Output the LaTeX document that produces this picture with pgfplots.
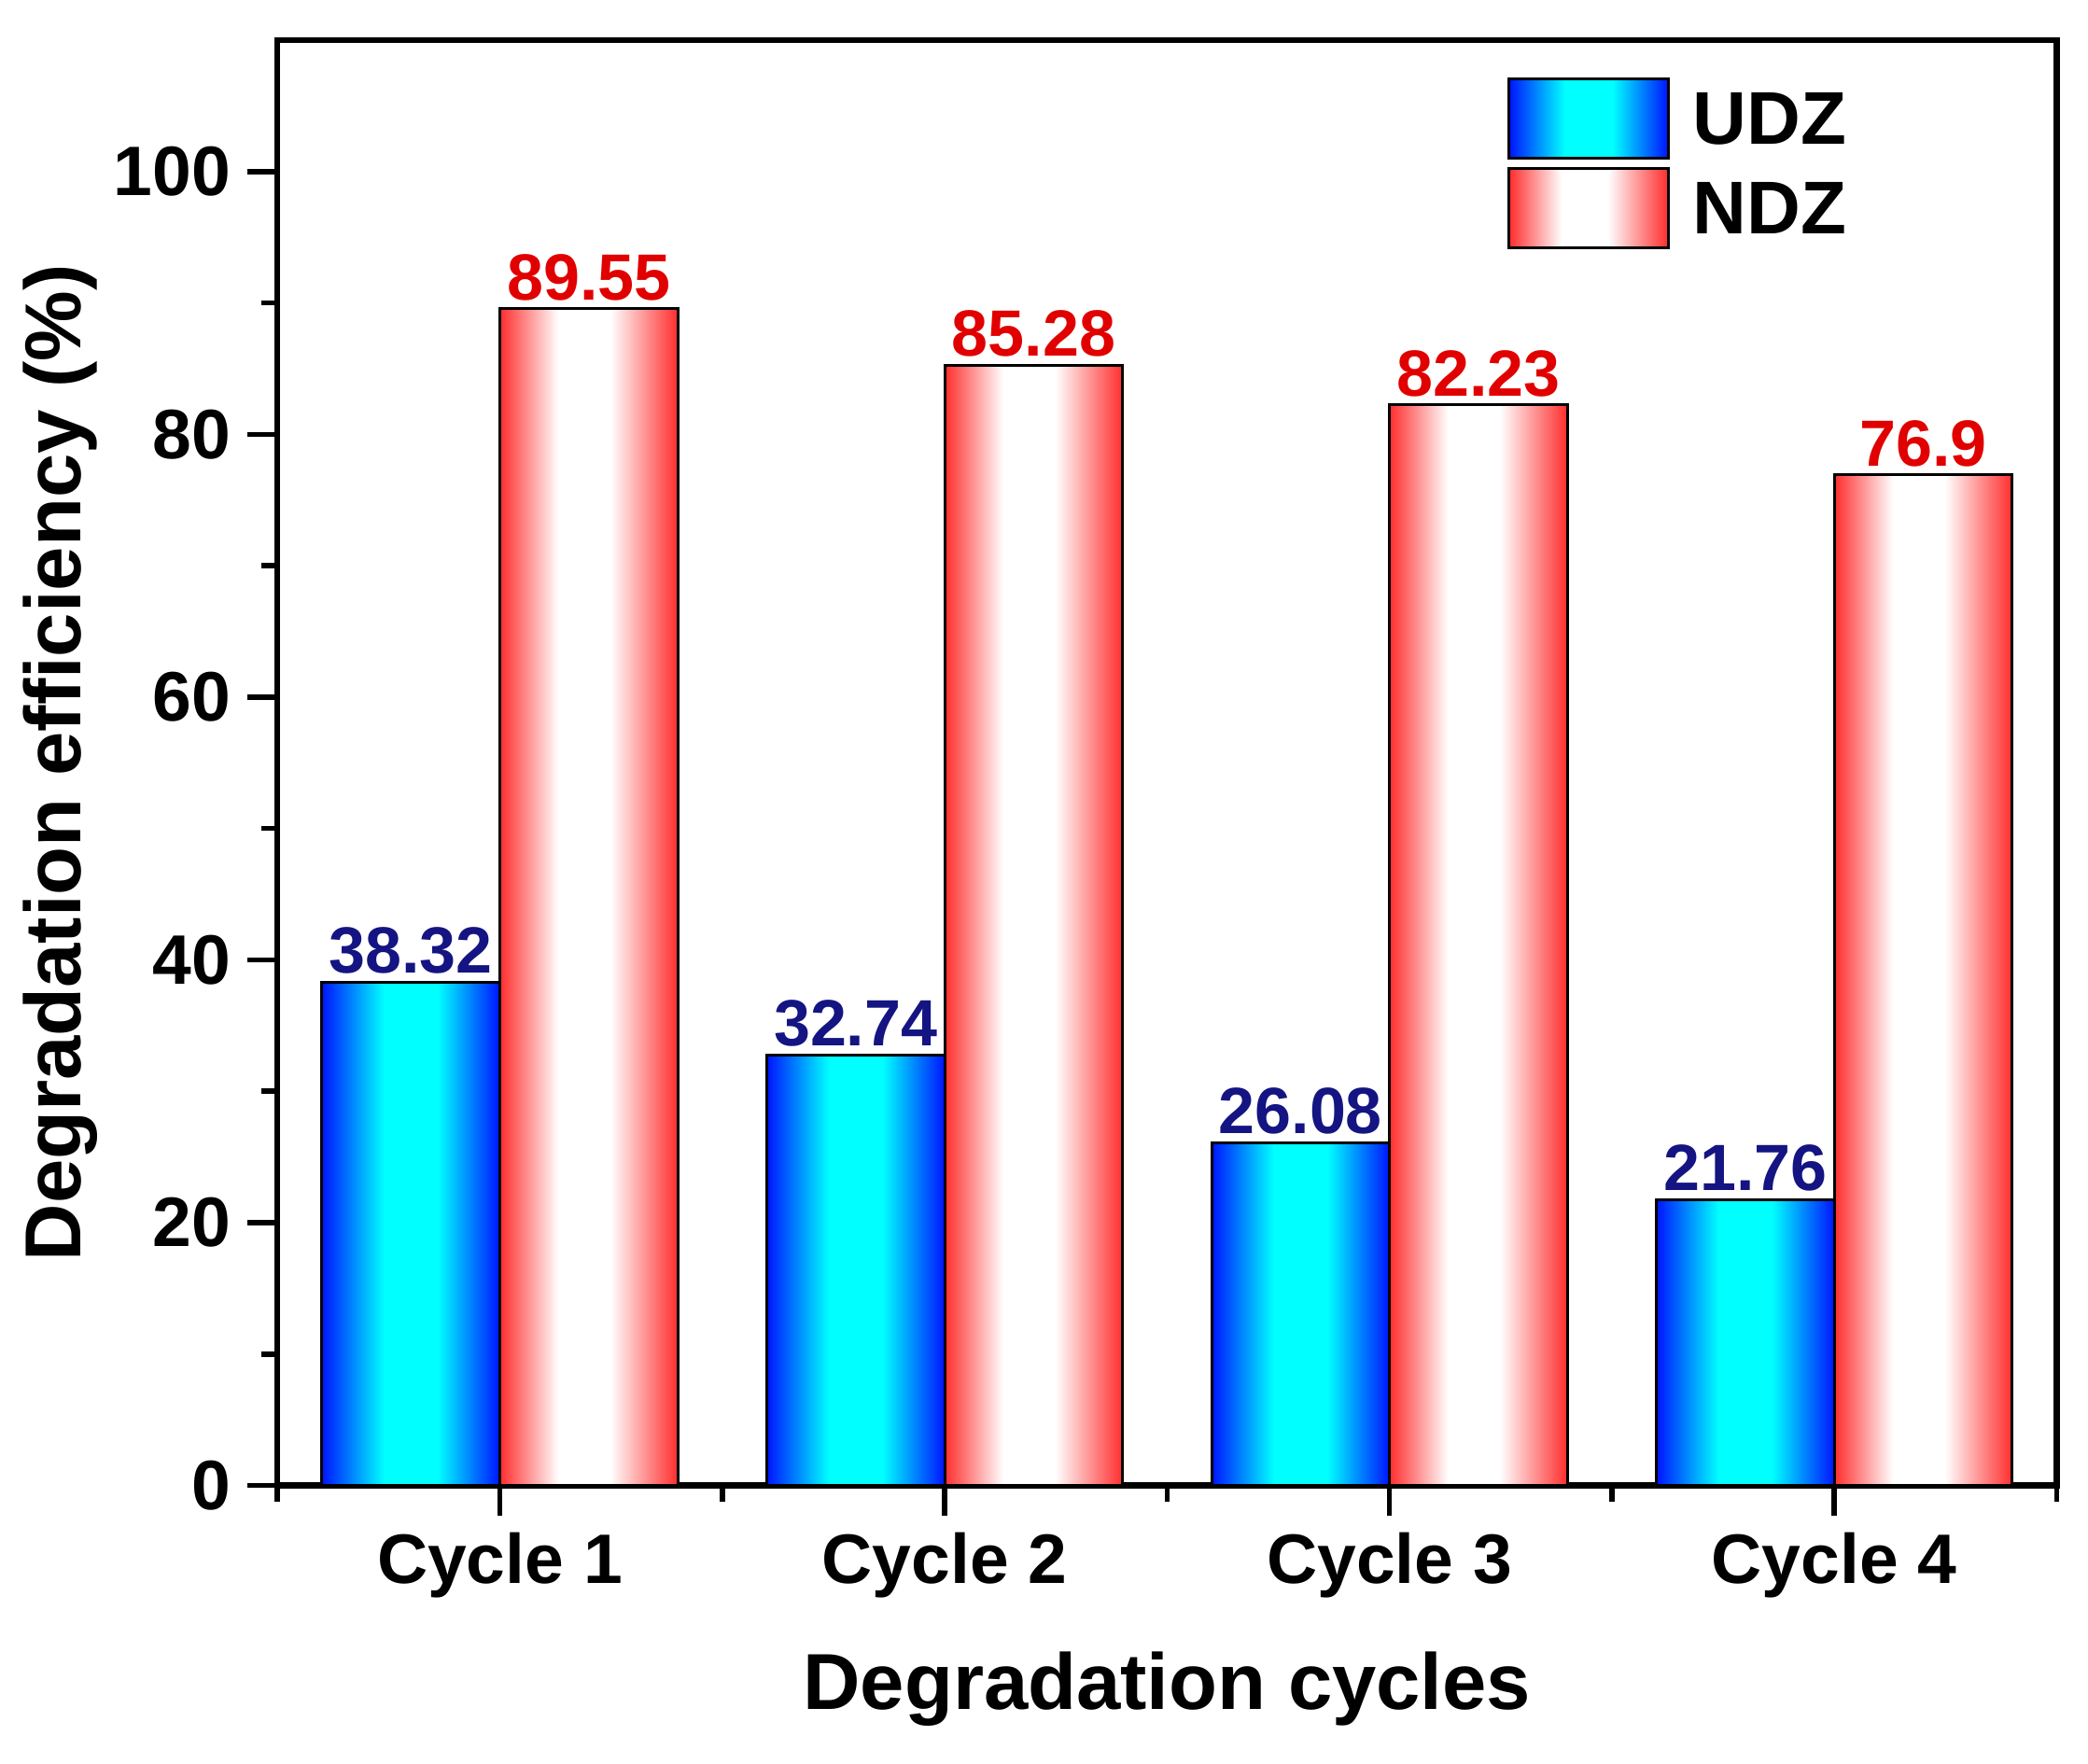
\documentclass[border=0pt]{standalone}
\usepackage{pgfplots}
\pgfplotsset{compat=1.18}
\usepackage{fontspec}
\setmainfont{Liberation Sans}

\definecolor{udzblue}{RGB}{0,20,255}
\definecolor{udzcyan}{RGB}{0,255,255}
\definecolor{ndzred}{RGB}{255,45,45}
\definecolor{navylab}{RGB}{20,20,130}
\definecolor{redlab}{RGB}{225,0,0}

% tikz fits the 25bp..75bp part of a shading to the path
\pgfdeclarehorizontalshading{udzshade}{100bp}{color(0bp)=(udzblue); color(25bp)=(udzblue);
  color(42.5bp)=(udzcyan); color(57.5bp)=(udzcyan); color(75bp)=(udzblue); color(100bp)=(udzblue)}
\pgfdeclarehorizontalshading{ndzshade}{100bp}{color(0bp)=(ndzred); color(25bp)=(ndzred);
  color(41.5bp)=(white); color(56bp)=(white); color(75bp)=(ndzred); color(100bp)=(ndzred)}

% one bar per \addplot, so that each bar gets its own shading
\pgfplotsset{
  udz/.style={draw=black, line width=0.6pt, bar shift=-0.2, shade, shading=udzshade,
    every node near coord/.append style={text=navylab}},
  ndz/.style={draw=black, line width=0.6pt, bar shift=0.2, shade, shading=ndzshade,
    every node near coord/.append style={text=redlab}},
}

\begin{document}
\begin{tikzpicture}
\begin{axis}[
    scale only axis, width=381pt, height=309.5pt,
    ybar, bar width=0.4,
    xmin=0.5, xmax=4.5, ymin=0, ymax=110,
    xtick={1,2,3,4},
    xticklabels={Cycle 1, Cycle 2, Cycle 3, Cycle 4},
    extra x ticks={0.5,1.5,2.5,3.5,4.5},
    extra x tick labels={},
    extra x tick style={major tick length=3.5pt},
    ytick={0,20,40,60,80,100},
    minor y tick num=1,
    tick align=outside, tick pos=left,
    major tick length=6.5pt, minor tick length=3.5pt,
    every tick/.style={black, line width=1.1pt},
    axis line style={line width=1.3pt},
    /pgf/number format/assume math mode=true,
    ticklabel style={font=\bfseries\fontsize{15}{18}\selectfont},
    xlabel={Degradation cycles},
    ylabel={Degradation efficiency (\%)},
    every axis x label/.style={at={(axis description cs:0.5,-0.141)}, anchor=center,
        font=\bfseries\fontsize{17}{20}\selectfont},
    every axis y label/.style={at={(axis description cs:-0.122,0.5)}, rotate=90, anchor=center,
        font=\bfseries\fontsize{17}{20}\selectfont},
    nodes near coords,
    nodes near coords style={font=\bfseries\fontsize{14}{16}\selectfont, inner sep=1.5pt},
    legend image code/.code={\draw[#1, line width=0.6pt] (0pt,-8.5pt) rectangle (34pt,8.5pt);},
    legend style={at={(axis description cs:0.691,0.975)}, anchor=north west,
        draw=none, fill=none, inner sep=0pt, row sep=1.7pt, column sep=2pt,
        font=\bfseries\fontsize{16}{19}\selectfont,
        nodes={inner ysep=0pt, inner xsep=3pt, text depth=0pt}},
    legend cell align=left,
]
\addplot[udz] coordinates {(1,38.32)};
\addplot[ndz] coordinates {(1,89.55)};
\addplot[udz, forget plot] coordinates {(2,32.74)};
\addplot[udz, forget plot] coordinates {(3,26.08)};
\addplot[udz, forget plot] coordinates {(4,21.76)};
\addplot[ndz, forget plot] coordinates {(2,85.28)};
\addplot[ndz, forget plot] coordinates {(3,82.23)};
\addplot[ndz, forget plot] coordinates {(4,76.9)};
\legend{UDZ, NDZ}
\end{axis}
\path ([shift={(-59.4pt,-59.5pt)}]current axis.south west) rectangle ([shift={(6.7pt,8.6pt)}]current axis.north east);
\end{tikzpicture}
\end{document}
